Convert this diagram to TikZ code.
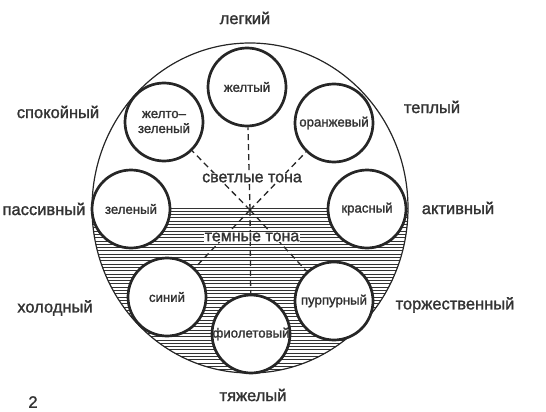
\documentclass[tikz,border=0pt]{standalone}
\usepackage{fontspec}
\setmainfont[FakeBold=1.5,BoldFont={Liberation Sans}]{Liberation Sans}
\begin{document}
\begin{tikzpicture}[x=1pt,y=-1pt,
  tone/.style={draw=black!85,line width=2.7pt,fill=white,circle,minimum size=78pt,inner sep=0pt,font=\bfseries\fontsize{13.2}{15}\selectfont,text=black!80},
  outer/.style={font=\bfseries\fontsize{16.5}{18}\selectfont,text=black!80},
  mid/.style={font=\bfseries\fontsize{16}{18}\selectfont,text=black!80,fill=white,inner sep=1pt},
  dsh/.style={dashed,dash pattern=on 6pt off 4pt,line width=1.3pt,black!85}]
\useasboundingbox (0,0) rectangle (546,412);
% hatching of lower half
\begin{scope}
  \clip (92,208) rectangle (408,380);
  \clip (250,208) ellipse [x radius=158, y radius=165];
  \foreach \k in {0,...,50} {
    \draw[line width=0.85pt,black!80] (90,208+3.3*\k) -- (410,208+3.3*\k);
  }
\end{scope}
\draw[line width=1.2pt,black!85] (250,208) ellipse [x radius=158, y radius=165];
\coordinate (c) at (250,210);
% tone circles
\node[tone] (yel) at (247,87) {желтый};
\node[tone] (ora) at (334,123) {оранжевый};
\node[tone] (red) at (367,209) {красный};
\node[tone] (pur) at (334,301) {пурпурный};
\node[tone] (vio) at (251,334) {фиолетовый};
\node[tone] (blu) at (167,297) {синий};
\node[tone] (gre) at (131,209) {зеленый};
\node[tone,align=center] (yg) at (164,122) {желто–\\зеленый};
% dashed connectors
\draw[dsh] (c) -- (yel);
\draw[dsh] (c) -- (ora);
\draw[dsh] (c) -- (yg);
\draw[dsh] (c) -- (blu);
\draw[dsh] (c) -- (vio);
\draw[dsh] (c) -- (pur);
% middle labels
\node[mid] (light) at (252,178) {светлые тона};
\node[mid] (dark) at (252,237) {темные тона};
% outer labels
\node[outer] (l1) at (245,18) {легкий};
\node[outer] (l2) at (432,107) {теплый};
\node[outer] (l3) at (458,208) {активный};
\node[outer] (l4) at (455,305) {торжественный};
\node[outer] (l5) at (253,395) {тяжелый};
\node[outer] (l6) at (55,308) {холодный};
\node[outer] (l7) at (44,209) {пассивный};
\node[outer] (l8) at (58,112) {спокойный};
\node[outer] (num) at (33,402) {2};
\end{tikzpicture}
\end{document}
